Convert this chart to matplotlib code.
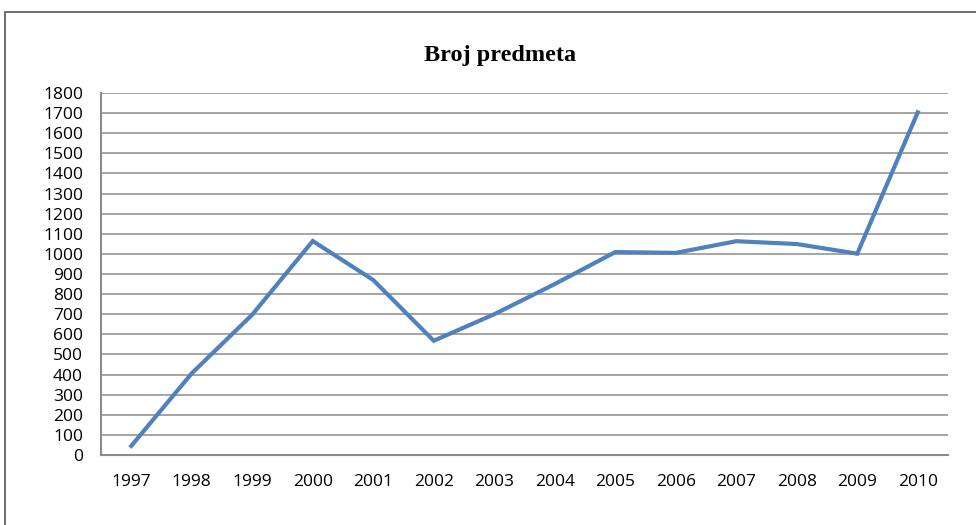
import matplotlib
matplotlib.use("Agg")
from matplotlib import pyplot as plt
from matplotlib.patches import Rectangle

years = ['1997', '1998', '1999', '2000', '2001', '2002', '2003',
         '2004', '2005', '2006', '2007', '2008', '2009', '2010']
cases = [45, 406, 698, 1064, 870, 568, 700, 850, 1009, 1005, 1063, 1049, 1001, 1704]
yticks = list(range(0, 1900, 100))

plt.rcParams['font.family'] = ['Open Sans', 'DejaVu Sans']

fig = plt.figure(figsize=(9.76, 5.25), dpi=100)
ax = fig.add_axes([101/976, 1 - 455/525, 847/976, 362/525])

# outer chart frame
fig.patches.append(Rectangle((5/976, -0.1), 1.1, 1 - 12/525 + 0.1, transform=fig.transFigure,
                             fill=False, edgecolor='#555555', linewidth=1.2))

x = list(range(len(years)))
ax.plot(x, cases, color='#4F81BD', linewidth=3, solid_joinstyle='miter', zorder=3)

ax.set_xlim(-0.5, len(years) - 0.5)
ax.set_ylim(0, 1800)
ax.set_yticks(yticks)
ax.set_xticks(x)
ax.set_xticklabels(years)
ax.tick_params(length=0, labelsize=12.5, colors='#000000')
ax.tick_params(axis='y', pad=13)
ax.tick_params(axis='x', pad=14)

ax.grid(axis='y', color='#8C8C8C', linewidth=1.1)
ax.set_axisbelow(True)
for s in ['top', 'right']:
    ax.spines[s].set_visible(False)
for s in ['left', 'bottom']:
    ax.spines[s].set_color('#8C8C8C')
    ax.spines[s].set_linewidth(1.5)

fig.text(500/976, 1 - 55/525, 'Broj predmeta', ha='center', va='center',
         fontsize=17.5, fontweight='bold', family=['Liberation Serif', 'DejaVu Serif'])

fig.savefig('out.png', dpi=100)
